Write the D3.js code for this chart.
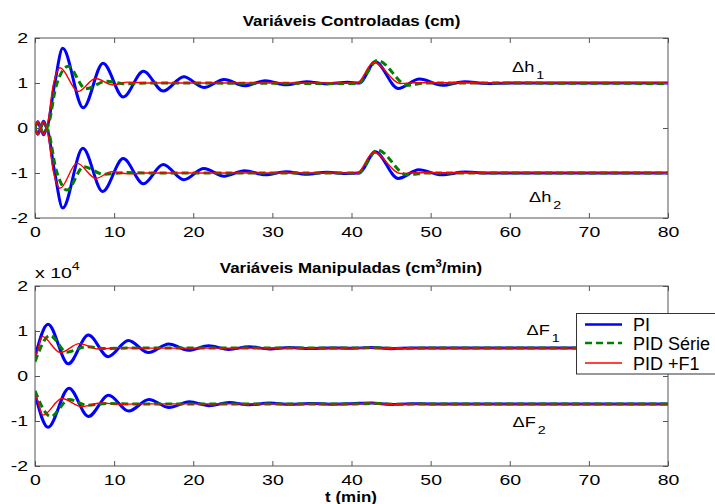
<!DOCTYPE html>
<html><head><meta charset="utf-8">
<script src="https://cdn.jsdelivr.net/npm/d3@7"></script>
<style>body{margin:0;background:#fff}svg{display:block}</style>
</head><body>
<svg id="c" width="715" height="504"></svg>
<script>
// ---------- data ----------
const xTickVals = [0,10,20,30,40,50,60,70,80];
const yTickVals = [-2,-1,0,1,2];
const seriesNames = ["PI","PID Série","PID +F1"];
const titleTop = "Variáveis Controladas (cm)";
const titleBottom = "Variáveis Manipuladas (cm";
const xLabel = "t (min)";

// Δh1 (cm)
const h1_PI = [[0,0],[0.35,-0.14],[0.7,0],[1.1,0.15],[1.45,0.02],[2.5,1.0],[3.5,1.77],[6.1,0.45],[8.6,1.44],[11.15,0.69],[13.7,1.26],[16.2,0.82],[18.8,1.14],[21.35,0.9],[23.9,1.08],[26.5,0.94],[29.1,1.05],[31.7,0.96],[34.3,1.03],[36.9,0.98],[39.5,1.015],[41.0,1.0],[43.0,1.47],[45.9,0.88],[48.6,1.09],[51.5,0.95],[54.3,1.03],[57.0,0.99],[60,1.0],[80,1.0]];
const h1_PIDs = [[0,0],[0.35,-0.12],[0.7,0],[1.1,0.13],[1.5,0.02],[2.7,0.95],[4.2,1.37],[6.4,0.87],[9.0,1.04],[11.5,0.98],[14,1.0],[40.8,0.99],[43.3,1.5],[47.1,0.95],[49.5,1.0],[80,0.99]];
const h1_PIDF = [[0,0],[0.35,-0.15],[0.7,0],[1.1,0.15],[1.45,0.02],[2.3,0.95],[3.16,1.34],[5.45,0.81],[7.65,1.1],[9.8,0.96],[11.8,1.02],[14,1.0],[40.7,1.0],[42.8,1.46],[46.2,0.99],[48,1.005],[80,1.0]];
// Δh2 (cm)
const h2_PI = [[0,0],[0.35,0.14],[0.7,0],[1.1,-0.15],[1.45,-0.02],[2.5,-1.0],[3.5,-1.78],[6.05,-0.45],[8.55,-1.41],[11.15,-0.68],[13.7,-1.24],[16.2,-0.81],[18.8,-1.15],[21.35,-0.9],[23.9,-1.07],[26.5,-0.95],[29.1,-1.04],[31.7,-0.97],[34.3,-1.03],[36.9,-0.985],[39.5,-1.01],[41.0,-1.0],[43.0,-0.53],[45.9,-1.12],[48.5,-0.93],[51.4,-1.04],[54.3,-0.98],[57,-1.0],[80,-1.0]];
const h2_PIDs = [[0,0],[0.35,0.12],[0.7,0],[1.1,-0.13],[1.5,-0.02],[2.7,-0.95],[4.05,-1.38],[6.15,-0.86],[8.7,-1.03],[11.5,-0.99],[14,-1.0],[40.8,-1.0],[43.3,-0.49],[47.0,-1.04],[49.5,-1.0],[80,-1.0]];
const h2_PIDF = [[0,0],[0.35,0.15],[0.7,0],[1.1,-0.15],[1.45,-0.02],[2.3,-0.95],[3.16,-1.34],[5.3,-0.78],[7.7,-1.12],[9.7,-0.97],[11.8,-1.02],[14,-1.0],[40.7,-1.0],[42.8,-0.54],[46.2,-1.01],[48,-0.995],[80,-1.0]];
// ΔF1 (x 10^4 cm3/min)
const F1_PI = [[0,0.42],[1.65,1.15],[4.2,0.27],[6.75,0.91],[9.25,0.43],[11.8,0.79],[14.35,0.52],[16.9,0.71],[19.4,0.57],[21.95,0.67],[24.5,0.59],[27.05,0.65],[29.6,0.6],[32.15,0.635],[34.7,0.61],[37.25,0.625],[40,0.615],[42.5,0.635],[45,0.605],[47.5,0.625],[50,0.62],[80,0.62]];
const F1_PIDs = [[0,0.32],[1.9,0.9],[4.0,0.53],[6.5,0.65],[9,0.61],[12,0.62],[40.5,0.62],[43,0.63],[46,0.61],[49,0.62],[80,0.62]];
const F1_PIDF = [[0,1.02],[0.05,0.45],[0.9,0.88],[3.2,0.52],[5.6,0.72],[8.0,0.6],[10.5,0.63],[13,0.62],[40.5,0.62],[42.5,0.635],[45,0.61],[48,0.62],[80,0.62]];
// ΔF2 (x 10^4 cm3/min)
const F2_PI = [[0,-0.4],[1.65,-1.14],[4.3,-0.27],[6.75,-0.9],[9.3,-0.43],[11.85,-0.78],[14.4,-0.52],[16.95,-0.7],[19.5,-0.57],[22.0,-0.66],[24.55,-0.59],[27.1,-0.64],[29.65,-0.6],[32.2,-0.63],[34.75,-0.61],[37.3,-0.625],[40,-0.615],[42.5,-0.6],[45,-0.635],[47.5,-0.615],[50,-0.62],[80,-0.62]];
const F2_PIDs = [[0,-0.33],[2.0,-0.9],[4.3,-0.52],[6.6,-0.65],[9,-0.61],[12,-0.62],[40.5,-0.62],[43,-0.61],[46,-0.63],[49,-0.62],[80,-0.62]];
const F2_PIDF = [[0,-1.01],[0.05,-0.45],[1.0,-0.87],[3.4,-0.5],[5.9,-0.68],[8.3,-0.6],[10.8,-0.63],[13,-0.62],[40.5,-0.62],[42.5,-0.605],[45,-0.63],[48,-0.62],[80,-0.62]];

// ---------- drawing ----------
const FONT = "'Liberation Sans', Arial, Helvetica, sans-serif";
const SX = 1.3;  // horizontal stretch of the original figure's text
const styles = [
  {color:"#0000ff", width:3, dash:null},
  {color:"#008000", width:3, dash:"7,4"},
  {color:"#ff0000", width:1.4, dash:null}
];
const svg = d3.select("#c");
const x = d3.scaleLinear().domain([0,80]).range([35,668]);

function panel(id, top, bottom, groups){
  const y = d3.scaleLinear().domain([-2,2]).range([bottom, top]);
  svg.append("clipPath").attr("id","clip"+id).append("rect")
    .attr("x",x(0)).attr("y",top).attr("width",x(80)-x(0)).attr("height",bottom-top);
  const line = d3.line().x(d=>x(d[0])).y(d=>y(d[1])).curve(d3.curveMonotoneX);
  const g = svg.append("g").attr("clip-path",`url(#clip${id})`);
  // draw series in order PI, PID Série, PID+F1
  [0,1,2].forEach(si=>{
    groups.forEach(grp=>{
      const s = styles[si];
      g.append("path").datum(grp[si]).attr("d",line)
        .attr("fill","none").attr("stroke",s.color).attr("stroke-width",s.width)
        .attr("stroke-dasharray",s.dash).attr("stroke-linejoin","round");
    });
  });
  // axes
  const tickCol = "#555";
  const ax = [
    svg.append("g").attr("transform",`translate(0,${bottom})`)
      .call(d3.axisBottom(x).tickValues(xTickVals).tickSizeInner(-5).tickSizeOuter(0).tickPadding(8.5).tickFormat(d=>String(d))),
    svg.append("g").attr("transform",`translate(0,${top})`)
      .call(d3.axisTop(x).tickValues(xTickVals).tickSizeInner(-5).tickSizeOuter(0).tickFormat("")),
    svg.append("g").attr("transform",`translate(${x(0)},0)`)
      .call(d3.axisLeft(y).tickValues(yTickVals).tickSizeInner(-5).tickSizeOuter(0).tickPadding(7).tickFormat(d=>String(d))),
    svg.append("g").attr("transform",`translate(${x(80)},0)`)
      .call(d3.axisRight(y).tickValues(yTickVals).tickSizeInner(-5).tickSizeOuter(0).tickFormat(""))
  ];
  ax.forEach(a=>{
    a.select(".domain").remove();
    a.selectAll("line").attr("stroke",tickCol);
    a.selectAll("text").attr("font-family",FONT).attr("font-size",15).attr("fill","#000");
  });
  ax[0].selectAll("text").attr("transform",`scale(${SX},1)`);
  ax[2].selectAll("text").attr("transform",`scale(${SX},1)`).attr("x",-7/SX);
  svg.append("rect").attr("x",x(0)).attr("y",top).attr("width",x(80)-x(0)).attr("height",bottom-top)
    .attr("fill","none").attr("stroke",tickCol).attr("stroke-width",1);
  return y;
}

panel("A", 38, 218, [[h1_PI,h1_PIDs,h1_PIDF],[h2_PI,h2_PIDs,h2_PIDF]]);
panel("B", 286, 466, [[F1_PI,F1_PIDs,F1_PIDF],[F2_PI,F2_PIDs,F2_PIDF]]);

// titles
function stretched(xp, yp, sx){
  return svg.append("g").attr("transform",`translate(${xp},${yp}) scale(${sx},1)`)
    .append("text").attr("font-family",FONT).attr("fill","#000");
}
stretched(351.5, 26, 1.13).attr("text-anchor","middle").attr("font-weight","bold").attr("font-size",15).text(titleTop);
const t2 = stretched(351, 273, 1.13).attr("text-anchor","middle").attr("font-weight","bold").attr("font-size",15);
t2.append("tspan").text(titleBottom);
t2.append("tspan").attr("dy",-6).attr("font-size",10).text("3");
t2.append("tspan").attr("dy",6).text("/min)");
stretched(351, 502, 1.13).attr("text-anchor","middle").attr("font-weight","bold").attr("font-size",15).text(xLabel);

// exponent label
const ex = stretched(35, 278, SX).attr("font-size",15);
ex.append("tspan").text("x 10");
ex.append("tspan").attr("dy",-8).attr("font-size",11).text("4");

// curve annotations
function annot(xp, yp, main, sub){
  const t = stretched(xp, yp, SX).attr("font-size",14);
  t.append("tspan").text(main);
  t.append("tspan").attr("dx",1.5).attr("dy",7).attr("font-size",11).text(sub);
}
annot(512, 72, "\u0394h", "1");
annot(529, 201.5, "\u0394h", "2");
annot(526.5, 335, "\u0394F", "1");
annot(512.5, 427, "\u0394F", "2");

// legend
const lg = svg.append("g");
lg.append("rect").attr("x",576.5).attr("y",313.5).attr("width",170).attr("height",60.5)
  .attr("fill","#fff").attr("stroke","#333").attr("stroke-width",1);
const legY = [324.5, 343, 363];
seriesNames.forEach((n,i)=>{
  const s = styles[i];
  lg.append("line").attr("x1",585).attr("x2",622).attr("y1",legY[i]).attr("y2",legY[i])
    .attr("stroke",s.color).attr("stroke-width",i===2?1.6:2.5).attr("stroke-dasharray",s.dash);
  lg.append("text").attr("x",633).attr("y",legY[i]+6.5).attr("font-family",FONT)
    .attr("font-size",18).attr("fill","#000").text(n);
});
</script>
</body></html>
